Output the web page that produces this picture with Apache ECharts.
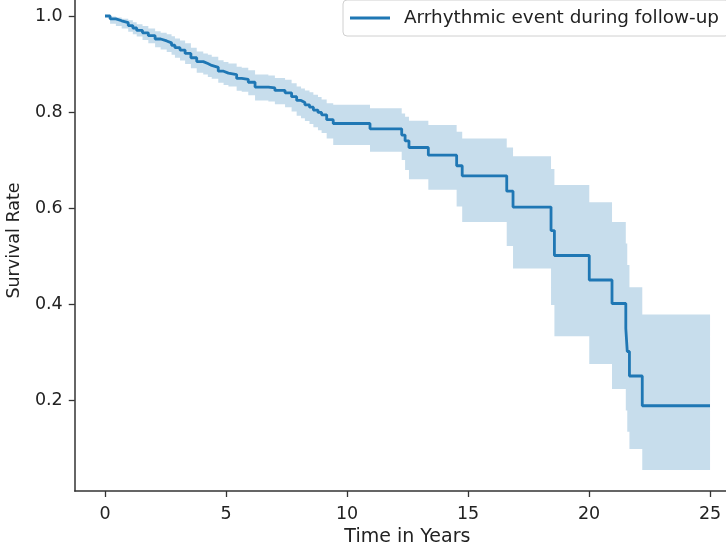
<!DOCTYPE html>
<html>
<head>
<meta charset="utf-8">
<script src="https://cdn.jsdelivr.net/npm/echarts@6/dist/echarts.min.js"></script>
<style>
  html, body { margin: 0; padding: 0; background: #fff; }
  #chart { width: 726px; height: 550px; }
</style>
</head>
<body>
<div id="chart"></div>
<script>
// Kaplan-Meier estimate (step drops at each time)
var times = [0, 0.21, 0.45, 0.69, 0.96, 1.15, 1.31, 1.55, 1.79, 2.07, 2.30, 2.55, 2.75, 2.89, 3.10,
    3.31, 3.55, 3.79, 4.06, 4.25, 4.41, 4.68, 4.90, 5.10, 5.44, 5.65, 5.92, 6.20, 6.75, 7.02,
    7.44, 7.71, 7.92, 8.10, 8.26, 8.45, 8.61, 8.80, 8.95, 9.16, 9.43, 10.95, 12.26, 12.40, 12.56,
    13.36, 14.53, 14.76, 16.60, 16.86, 18.43, 18.57, 20.01, 20.95, 21.52, 21.58, 21.67, 22.20];
var survival = [1.000, 0.994, 0.990, 0.986, 0.980, 0.975, 0.970, 0.965, 0.959, 0.952, 0.948, 0.944, 0.939, 0.934, 0.929,
    0.922, 0.913, 0.905, 0.901, 0.897, 0.893, 0.885, 0.881, 0.878, 0.870, 0.868, 0.862, 0.852, 0.850, 0.845,
    0.840, 0.832, 0.824, 0.820, 0.815, 0.810, 0.804, 0.799, 0.794, 0.784, 0.776, 0.765, 0.752, 0.740, 0.726,
    0.710, 0.688, 0.667, 0.635, 0.602, 0.553, 0.501, 0.450, 0.401, 0.349, 0.301, 0.250, 0.188];
var upper = [1.000, 0.999, 0.997, 0.994, 0.991, 0.987, 0.983, 0.979, 0.974, 0.968, 0.965, 0.962, 0.958, 0.953, 0.949,
    0.943, 0.934, 0.926, 0.922, 0.919, 0.915, 0.908, 0.904, 0.901, 0.894, 0.892, 0.887, 0.878, 0.876, 0.871,
    0.867, 0.860, 0.853, 0.849, 0.845, 0.841, 0.836, 0.831, 0.826, 0.818, 0.815, 0.808, 0.797, 0.790, 0.782,
    0.773, 0.759, 0.745, 0.726, 0.708, 0.681, 0.648, 0.612, 0.571, 0.526, 0.481, 0.435, 0.378];
var lower = [1.000, 0.984, 0.979, 0.974, 0.967, 0.962, 0.957, 0.950, 0.943, 0.935, 0.930, 0.925, 0.919, 0.913, 0.907,
    0.900, 0.891, 0.882, 0.878, 0.873, 0.869, 0.861, 0.856, 0.853, 0.844, 0.842, 0.835, 0.824, 0.822, 0.816,
    0.810, 0.801, 0.792, 0.787, 0.781, 0.775, 0.768, 0.762, 0.756, 0.745, 0.731, 0.717, 0.700, 0.679, 0.660,
    0.638, 0.603, 0.571, 0.521, 0.474, 0.398, 0.333, 0.275, 0.223, 0.178, 0.134, 0.098, 0.054];
var lastTime = 25.0;   // last follow-up (censored)

var xTicks = [0, 5, 10, 15, 20, 25];
var yTicks = [0.2, 0.4, 0.6, 0.8, 1.0];
var seriesName = 'Arrhythmic event during follow-up';

var allTimes = times.concat([lastTime]);
var lineData = allTimes.map(function (t, i) {
    return [t, survival[Math.min(i, survival.length - 1)]];
});

var font = 'DejaVu Sans';
var blue = '#1f77b4';
var axisColor = '#333';
var textColor = '#222';

// confidence band as one step-shaped polygon
function renderBand(params, api) {
    var n = times.length;
    var pts = [];
    for (var i = 0; i < n; i++) {
        pts.push(api.coord([allTimes[i], upper[i]]));
        pts.push(api.coord([allTimes[i + 1], upper[i]]));
    }
    for (var j = n - 1; j >= 0; j--) {
        pts.push(api.coord([allTimes[j + 1], lower[j]]));
        pts.push(api.coord([allTimes[j], lower[j]]));
    }
    return {
        type: 'polygon',
        shape: { points: pts },
        style: { fill: 'rgba(31,119,180,0.25)', stroke: null }
    };
}

var chart = echarts.init(document.getElementById('chart'));
chart.setOption({
    animation: false,
    backgroundColor: '#fff',
    grid: { left: 74.75, right: 0, top: 0, bottom: 59, outerBoundsMode: 'none', containLabel: false },
    legend: {
        data: [seriesName],
        left: 343,
        top: 0,
        icon: 'rect',
        itemWidth: 40,
        itemHeight: 3,
        padding: [9, 10, 9, 7],
        borderColor: '#d0d0d0',
        borderWidth: 1,
        borderRadius: 4,
        backgroundColor: 'rgba(255,255,255,0.8)',
        textStyle: { fontFamily: font, fontSize: 18.4, color: textColor, padding: [0, 0, 0, 9] }
    },
    xAxis: {
        type: 'value',
        min: -1.25,
        max: 25.66,
        name: 'Time in Years',
        nameLocation: 'middle',
        nameGap: 35,
        nameTextStyle: { fontFamily: font, fontSize: 19, color: textColor, padding: [0, 0, 0, 14] },
        axisLine: { onZero: false, lineStyle: { color: axisColor, width: 1.5 } },
        axisTick: { show: true, customValues: xTicks, length: 6, lineStyle: { color: axisColor, width: 1.3 } },
        axisLabel: { customValues: xTicks, margin: 14, fontFamily: font, fontSize: 17.5, color: textColor },
        splitLine: { show: false }
    },
    yAxis: {
        type: 'value',
        min: 0.0104,
        max: 1.0333,
        name: 'Survival Rate',
        nameLocation: 'middle',
        nameGap: 51,
        nameTextStyle: { fontFamily: font, fontSize: 17.5, color: textColor, padding: [0, 0, 0, 10] },
        axisLine: { show: true, onZero: false, lineStyle: { color: axisColor, width: 1.5 } },
        axisTick: { show: true, customValues: yTicks, length: 6, lineStyle: { color: axisColor, width: 1.3 } },
        axisLabel: {
            customValues: yTicks, margin: 12, fontFamily: font, fontSize: 17.5, color: textColor,
            formatter: function (v) { return v.toFixed(1); }
        },
        splitLine: { show: false }
    },
    series: [
        {
            name: 'ci_band', type: 'custom',
            renderItem: renderBand,
            data: [[0, 1]],
            silent: true, z: 1
        },
        {
            name: seriesName, type: 'line', step: 'end',
            data: lineData, showSymbol: false, symbol: 'none',
            color: blue,
            lineStyle: { color: blue, width: 2.8 },
            z: 3
        }
    ]
});
</script>
</body>
</html>
